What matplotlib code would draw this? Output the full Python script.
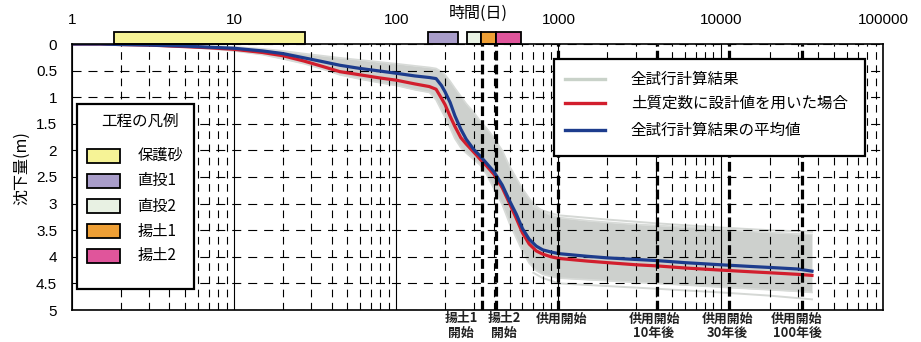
import matplotlib
matplotlib.use('Agg')
import matplotlib.pyplot as plt
from matplotlib.patches import Rectangle
from matplotlib.lines import Line2D
from matplotlib.ticker import LogLocator, FixedLocator, FixedFormatter, NullFormatter

plt.rcParams['lines.scale_dashes'] = False
plt.rcParams['font.family'] = ['Noto Sans CJK JP', 'DejaVu Sans']

# ---------------- data ----------------
days = [1, 1.5, 2, 3, 5, 7, 10, 15, 20, 27, 35, 45, 60, 80, 100, 130, 160, 176,
        190, 200, 215, 230, 250, 270, 300, 330, 360, 400, 450, 500, 550, 600,
        660, 730, 800, 900, 1000, 1500, 2000, 3000, 4000, 6000, 10000, 15000,
        20000, 30000, 36500]

mean_all = [0.00, 0.00, 0.01, 0.02, 0.04, 0.06, 0.08, 0.13, 0.18, 0.26, 0.33, 0.40,
            0.46, 0.51, 0.55, 0.60, 0.63, 0.65, 0.78, 0.90, 1.10, 1.35, 1.60, 1.79,
            1.98, 2.11, 2.24, 2.40, 2.65, 2.95, 3.20, 3.47, 3.67, 3.80, 3.87, 3.91,
            3.94, 3.99, 4.02, 4.05, 4.07, 4.11, 4.15, 4.18, 4.20, 4.23, 4.27]

design = [0.00, 0.00, 0.01, 0.02, 0.05, 0.07, 0.10, 0.16, 0.22, 0.32, 0.42, 0.52,
          0.58, 0.64, 0.68, 0.75, 0.80, 0.85, 1.02, 1.14, 1.36, 1.55, 1.76, 1.88,
          2.03, 2.17, 2.29, 2.45, 2.70, 3.00, 3.28, 3.55, 3.76, 3.89, 3.95, 4.00,
          4.03, 4.08, 4.11, 4.15, 4.17, 4.21, 4.25, 4.28, 4.30, 4.33, 4.35]

trials_min = [0.00, 0.00, 0.005, 0.01, 0.025, 0.04, 0.055, 0.09, 0.13, 0.18, 0.22, 0.26,
              0.30, 0.34, 0.37, 0.41, 0.44, 0.46, 0.52, 0.58, 0.70, 0.83, 0.98, 1.12,
              1.28, 1.45, 1.58, 1.76, 2.00, 2.30, 2.52, 2.72, 2.90, 3.05, 3.15, 3.22,
              3.26, 3.32, 3.35, 3.39, 3.41, 3.44, 3.48, 3.52, 3.54, 3.57, 3.58]

trials_max = [0.00, 0.005, 0.015, 0.03, 0.06, 0.09, 0.13, 0.20, 0.28, 0.37, 0.47, 0.58,
              0.66, 0.73, 0.78, 0.86, 0.91, 1.05, 1.25, 1.38, 1.58, 1.78, 1.95, 2.05,
              2.17, 2.28, 2.45, 2.72, 3.02, 3.38, 3.65, 3.90, 4.12, 4.26, 4.33, 4.37,
              4.40, 4.43, 4.45, 4.48, 4.50, 4.53, 4.57, 4.60, 4.62, 4.65, 4.67]

outer_days = [700, 800, 900, 1000, 2000, 4000, 10000, 20000, 36500]
outer_low = [4.30, 4.40, 4.45, 4.50, 4.55, 4.60, 4.67, 4.73, 4.80]
outer_high = [3.05, 3.13, 3.18, 3.22, 3.30, 3.37, 3.45, 3.50, 3.53]

stage_names = ['保護砂', '直投1', '直投2', '揚土1', '揚土2']
stage_start = [1.82, 156, 273, 334, 412]
stage_end = [27.3, 239, 334, 412, 588]
stage_colors = ['#f6f396', '#a99dca', '#e8f1e3', '#ee9f35', '#e0559b']

event_days = [336, 412, 990, 4070, 11250, 31800]
event_labels = ['揚土1\n開始', '揚土2\n開始', '供用開始', '供用開始\n10年後',
                '供用開始\n30年後', '供用開始\n100年後']

xtick_vals = [1, 10, 100, 1000, 10000, 100000]
xtick_labels = ['1', '10', '100', '1000', '10000', '100000']
ytick_vals = [0, 0.5, 1, 1.5, 2, 2.5, 3, 3.5, 4, 4.5, 5]
ytick_labels = ['0', '0.5', '1', '1.5', '2', '2.5', '3', '3.5', '4', '4.5', '5']

series_labels = ['全試行計算結果', '土質定数に設計値を用いた場合', '全試行計算結果の平均値']
gray_c = '#cdd0cd'
gray_leg = '#c9d2c9'
red_c = '#d21e2d'
blue_c = '#1d3c8d'

# ---------------- figure ----------------
W, H = 921, 342
fig = plt.figure(figsize=(W / 100, H / 100), dpi=100)
ax = fig.add_axes([71.7 / W, 1 - 310 / H, (883 - 71.7) / W, (310 - 44) / H])
ax.set_xscale('log')
ax.set_xlim(1, 1e5)
ax.set_ylim(5, 0)

# trial band
ax.fill_between(days, trials_min, trials_max, color=gray_c, lw=0, zorder=1)
ax.plot(days, trials_min, color='#d8dbd8', lw=1.2, zorder=1.2)
ax.plot(days, trials_max, color='#d8dbd8', lw=1.2, zorder=1.2)
ax.plot(outer_days, outer_low, color='#d5d8d5', lw=1.4, zorder=1.1)
ax.plot(outer_days, outer_high, color='#d5d8d5', lw=1.4, zorder=1.1)

# grid
ax.set_axisbelow(False)
ax.xaxis.set_major_locator(FixedLocator(xtick_vals))
ax.xaxis.set_major_formatter(FixedFormatter(xtick_labels))
ax.xaxis.set_minor_locator(LogLocator(base=10, subs=[2, 3, 4, 5, 6, 7, 8, 9], numticks=20))
ax.xaxis.set_minor_formatter(NullFormatter())
ax.yaxis.set_major_locator(FixedLocator(ytick_vals))
ax.yaxis.set_major_formatter(FixedFormatter(ytick_labels))
ax.grid(which='major', axis='x', color='black', lw=0.8, ls='-')
ax.grid(which='minor', axis='x', color='black', lw=0.8, ls=(0, (5.5, 4)))
ax.grid(which='major', axis='y', color='black', lw=0.8, ls=(0, (6.5, 5)))

# main curves
ax.plot(days, design, color=red_c, lw=2.3, zorder=3)
ax.plot(days, mean_all, color=blue_c, lw=2.3, zorder=3.1)

# event lines
for d in event_days:
    ax.axvline(d, color='black', lw=2.3, ls=(0, (7, 3)), zorder=4)

label_dx = [-14.8, 6.0, 2.4, -2.4, -1.4, -3.8]
for d, lab, dx in zip(event_days, event_labels, label_dx):
    ax.annotate(lab, xy=(d, 0), xycoords=ax.get_xaxis_transform(),
                xytext=(dx, -1.0), textcoords='offset points',
                ha='center', va='top', fontsize=9.3, fontweight='bold',
                linespacing=1.15, color='#222222')

# stage bars above the axes
for s, e, c in zip(stage_start, stage_end, stage_colors):
    bars = ax.barh(-0.11, e - s, left=s, height=0.215, color=c,
                   edgecolor='black', linewidth=1.3, zorder=5)
    for b in bars:
        b.set_clip_on(False)

# ticks
ax.xaxis.tick_top()
ax.tick_params(axis='both', which='both', length=0)
ax.tick_params(axis='x', which='major', pad=12.5)
ax.tick_params(axis='y', which='major', pad=10.5)
for t in ax.get_xticklabels() + ax.get_yticklabels():
    t.set_fontfamily(['Liberation Sans', 'DejaVu Sans'])
    t.set_fontsize(11)
for sp in ax.spines.values():
    sp.set_linewidth(1.2)
    sp.set_zorder(6)

fig.text(478 / W, 1 - 13.5 / H, '時間(日)', ha='center', va='center', fontsize=11.5)
fig.text(22 / W, 1 - 168 / H, '沈下量(m)', ha='center', va='center', rotation=90, fontsize=11.5)


def fx(x):
    return x / W


def fy(y):
    return 1 - y / H


# left legend (stages)
fig.add_artist(Rectangle((fx(77.3), fy(289.3)), fx(194) - fx(77.3), fy(104) - fy(289.3),
                         transform=fig.transFigure, facecolor='white', edgecolor='black',
                         lw=1.6, zorder=10))
fig.text(fx(140), fy(120.7), '工程の凡例', ha='center', va='center', fontsize=11.2, zorder=11)
row_y = [155.7, 180.7, 206, 231, 255.7]
for yy, name, c in zip(row_y, stage_names, stage_colors):
    fig.add_artist(Rectangle((fx(86.7), fy(yy + 6.8)), fx(120) - fx(86.7), 13.6 / H,
                             transform=fig.transFigure, facecolor=c, edgecolor='black',
                             lw=1.3, zorder=11))
    fig.text(fx(137.3), fy(yy), name, ha='left', va='center', fontsize=11, zorder=11)

# right legend (series)
fig.add_artist(Rectangle((fx(554), fy(156)), fx(865) - fx(554), fy(59.3) - fy(156),
                         transform=fig.transFigure, facecolor='white', edgecolor='black',
                         lw=1.6, zorder=10))
leg_y = [79.3, 103.3, 130]
for yy, lab, c in zip(leg_y, series_labels, [gray_leg, red_c, blue_c]):
    fig.add_artist(Line2D([fx(565), fx(605)], [fy(yy), fy(yy)], transform=fig.transFigure,
                          color=c, lw=2.4, zorder=11))
    fig.text(fx(630.7), fy(yy), lab, ha='left', va='center', fontsize=11.2, zorder=11)

fig.savefig('out.png', dpi=100)
